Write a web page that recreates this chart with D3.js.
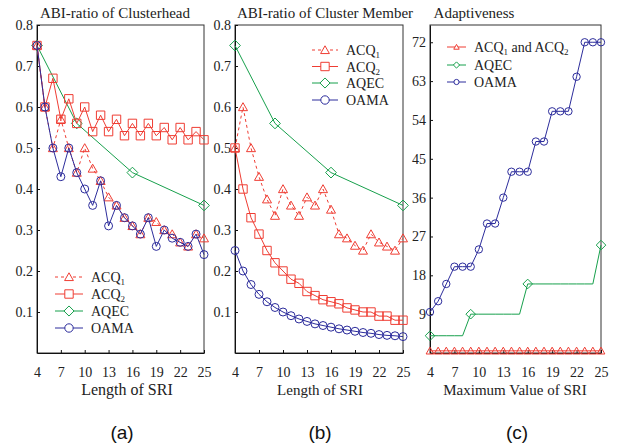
<!DOCTYPE html>
<html><head><meta charset="utf-8">
<script src="https://cdn.jsdelivr.net/npm/d3@7"></script>
<style>body{margin:0;background:#fff}</style>
</head><body>
<svg id="chart" width="631" height="445"></svg>
<script>
// ---------- data ----------
const sri = [4,5,6,7,8,9,10,11,12,13,14,15,16,17,18,19,20,21,22,23,24,25];
const xTicks = [4,7,10,13,16,19,22,25];
const ratioTicks = [0.1,0.2,0.3,0.4,0.5,0.6,0.7,0.8];
const adaptTicks = [9,18,27,36,45,54,63,72];
const aqecSri = [4,9,16,25];

// (a) ABI-ratio of Clusterhead
const headACQ1 = [0.75,0.60,0.50,0.57,0.50,0.44,0.50,0.45,0.42,0.38,0.36,0.33,0.31,0.29,0.33,0.32,0.30,0.29,0.27,0.26,0.29,0.28];
const headACQ2 = [0.75,0.60,0.67,0.57,0.62,0.56,0.60,0.54,0.58,0.54,0.57,0.53,0.56,0.53,0.56,0.53,0.55,0.52,0.55,0.52,0.54,0.52];
const headAQEC = [0.75,0.56,0.44,0.36];
const headOAMA = [0.75,0.60,0.50,0.43,0.50,0.44,0.40,0.36,0.42,0.31,0.36,0.33,0.31,0.29,0.33,0.26,0.30,0.28,0.27,0.26,0.29,0.24];

// (b) ABI-ratio of Cluster Member
const memACQ1 = [0.50,0.60,0.50,0.43,0.375,0.335,0.40,0.36,0.335,0.38,0.36,0.40,0.35,0.29,0.28,0.262,0.25,0.29,0.27,0.26,0.25,0.28];
const memACQ2 = [0.50,0.40,0.33,0.29,0.25,0.22,0.20,0.18,0.17,0.15,0.14,0.13,0.125,0.12,0.11,0.105,0.10,0.10,0.09,0.09,0.08,0.08];
const memAQEC = [0.75,0.56,0.44,0.36];
const memOAMA = [0.25,0.20,0.167,0.143,0.125,0.111,0.10,0.091,0.083,0.077,0.071,0.067,0.063,0.059,0.056,0.053,0.05,0.048,0.045,0.043,0.042,0.04];

// (c) Adaptiveness
const adaptACQ = [0.5,0.5,0.5,0.5,0.5,0.5,0.5,0.5,0.5,0.5,0.5,0.5,0.5,0.5,0.5,0.5,0.5,0.5,0.5,0.5,0.5,0.5];
const adaptAQEC = [4,4,4,4,4,9,9,9,9,9,9,9,16,16,16,16,16,16,16,16,16,25];
const adaptAQECMarks = [4,9,16,25];
const adaptOAMA = [9.5,12,16,20,20,20,24,30,30,36,42,42,42,49,49,56,56,56,64,72,72,72];

// ---------- style ----------
const RED = "#ef3d33", GREEN = "#17a04c", BLUE = "#2d2d9c";
const SERIF = "Liberation Serif, Times New Roman, DejaVu Serif, serif";
const svg = d3.select("#chart");

function markerPath(type, s) {
  if (type === "circle") return d3.symbol().type(d3.symbolCircle).size(Math.PI*s*s)();
  if (type === "square") return `M${-s},${-s}H${s}V${s}H${-s}Z`;
  if (type === "diamond") { const d = s*1.2; return `M0,${-d}L${d},0L0,${d}L${-d},0Z`; }
  if (type === "triangle") { const h = s*1.0; return `M0,${-h}L${s*1.05},${h*0.85}L${-s*1.05},${h*0.85}Z`; }
}

function drawSeries(g, x, y, xs, ys, opt) {
  const line = d3.line().x((d,i)=>x(xs[i])).y(d=>y(d));
  g.append("path").datum(ys).attr("d", line).attr("fill","none")
    .attr("stroke", opt.color).attr("stroke-width", 1)
    .attr("stroke-dasharray", opt.dash ? "3,3" : null);
  const mx = opt.markX || xs;
  const my = opt.markY || ys;
  g.selectAll(null).data(my).enter().append("path")
    .attr("d", markerPath(opt.marker, opt.size))
    .attr("transform", (d,i)=>`translate(${x(mx[i])},${y(d)})`)
    .attr("fill","none").attr("stroke", opt.color).attr("stroke-width", 1);
}

function subText(t, base, sub, rest) {
  t.append("tspan").text(base);
  t.append("tspan").text(sub).attr("font-size","9px").attr("dy", 3);
  if (rest) {
    t.append("tspan").text(rest).attr("dy", -3);
  }
}

function legend(g, x0, x1, ys, items, size, fs) {
  items.forEach((it, i) => {
    const y = ys[i];
    g.append("line").attr("x1", x0).attr("x2", x1).attr("y1", y).attr("y2", y)
      .attr("stroke", it.color).attr("stroke-width", 1)
      .attr("stroke-dasharray", it.dash ? "3,3" : null);
    g.append("path").attr("d", markerPath(it.marker, size))
      .attr("transform", `translate(${(x0+x1)/2},${y})`)
      .attr("fill","#fff").attr("stroke", it.color);
    const t = g.append("text").attr("x", x1 + 8).attr("y", y + 5)
      .style("font-family", SERIF).attr("font-size", fs).attr("fill","#222");
    it.label(t);
  });
}

function panel(cfg) {
  const g = svg.append("g");
  const x = d3.scaleLinear().domain([4,25]).range([cfg.left, cfg.right]);
  const y = d3.scaleLinear().domain(cfg.ydom).range([353, 25]);
  g.append("rect").attr("x", cfg.left).attr("y", 25)
    .attr("width", cfg.right - cfg.left).attr("height", 328)
    .attr("fill","none").attr("stroke","#333").attr("stroke-width",1);
  const xa = g.append("g").attr("transform","translate(0,353)")
    .call(d3.axisBottom(x).tickValues(xTicks).tickSize(-3).tickSizeOuter(0).tickPadding(14));
  const ya = g.append("g").attr("transform",`translate(${cfg.left},0)`)
    .call(d3.axisLeft(y).tickValues(cfg.yticks).tickSize(-3).tickSizeOuter(0).tickPadding(4).tickFormat(cfg.fmt));
  [xa, ya].forEach(a => {
    a.attr("font-family", null);
    a.selectAll("text").style("font-family", SERIF).attr("font-size", 14).attr("fill","#222");
    a.select(".domain").attr("stroke","#111");
    a.selectAll(".tick line").attr("stroke","#111");
  });
  g.append("text").attr("x", cfg.titleX).attr("y", 18).attr("text-anchor","middle")
    .style("font-family", SERIF).attr("font-size", 15).attr("fill","#222").text(cfg.title);
  g.append("text").attr("x", cfg.xtitleX).attr("y", 395).attr("text-anchor","middle")
    .style("font-family", SERIF).attr("font-size", cfg.xtitleSize).attr("fill","#222").text(cfg.xtitle);
  g.append("text").attr("x", cfg.labelX).attr("y", 439).attr("text-anchor","middle")
    .style("font-family","Liberation Sans, Arial, sans-serif").attr("font-size", 19).attr("fill","#111").text(cfg.label);
  return {g, x, y};
}

const fmtR = d3.format(".1f");

// Panel (a)
{
  const {g, x, y} = panel({left:37, right:204, ydom:[0,0.8], yticks:ratioTicks, fmt:fmtR,
    title:"ABI-ratio of Clusterhead", titleX:115, xtitle:"Length of SRI", xtitleX:127, xtitleSize:16, label:"(a)", labelX:122});
  drawSeries(g, x, y, aqecSri, headAQEC, {color:GREEN, marker:"diamond", size:4.5});
  drawSeries(g, x, y, sri, headACQ2, {color:RED, marker:"square", size:4.2});
  drawSeries(g, x, y, sri, headACQ1, {color:RED, marker:"triangle", size:4.3, dash:true});
  drawSeries(g, x, y, sri, headOAMA, {color:BLUE, marker:"circle", size:4});
  legend(g, 55, 83, [277, 294, 311, 328], [
    {color:RED, marker:"triangle", dash:true, label:t=>subText(t,"ACQ","1")},
    {color:RED, marker:"square", label:t=>subText(t,"ACQ","2")},
    {color:GREEN, marker:"diamond", label:t=>t.text("AQEC")},
    {color:BLUE, marker:"circle", label:t=>t.text("OAMA")}
  ], 4.2, 14);
}

// Panel (b)
{
  const {g, x, y} = panel({left:235, right:403, ydom:[0,0.8], yticks:ratioTicks, fmt:fmtR,
    title:"ABI-ratio of Cluster Member", titleX:325, xtitle:"Length of SRI", xtitleX:320, xtitleSize:15, label:"(b)", labelX:320});
  drawSeries(g, x, y, aqecSri, memAQEC, {color:GREEN, marker:"diamond", size:4.5});
  drawSeries(g, x, y, sri, memACQ1, {color:RED, marker:"triangle", size:4.3, dash:true});
  drawSeries(g, x, y, sri, memACQ2, {color:RED, marker:"square", size:4.2});
  drawSeries(g, x, y, sri, memOAMA, {color:BLUE, marker:"circle", size:4});
  legend(g, 312, 338, [50, 66.5, 83, 100], [
    {color:RED, marker:"triangle", dash:true, label:t=>subText(t,"ACQ","1")},
    {color:RED, marker:"square", label:t=>subText(t,"ACQ","2")},
    {color:GREEN, marker:"diamond", label:t=>t.text("AQEC")},
    {color:BLUE, marker:"circle", label:t=>t.text("OAMA")}
  ], 4.2, 14);
}

// Panel (c)
{
  const {g, x, y} = panel({left:430, right:601, ydom:[0,76], yticks:adaptTicks, fmt:d3.format("d"),
    title:"Adaptiveness", titleX:474, xtitle:"Maximum Value of SRI", xtitleX:515, xtitleSize:15, label:"(c)", labelX:517});
  drawSeries(g, x, y, sri, adaptAQEC, {color:GREEN, marker:"diamond", size:4, markX:adaptAQECMarks, markY:[4,9,16,25]});
  drawSeries(g, x, y, sri, adaptACQ, {color:RED, marker:"triangle", size:3.7});
  drawSeries(g, x, y, sri, adaptOAMA, {color:BLUE, marker:"circle", size:3.7});
  legend(g, 447, 466, [47, 65, 82], [
    {color:RED, marker:"triangle", label:t=>{subText(t,"ACQ","1"," and ACQ"); t.append("tspan").text("2").attr("font-size","9px").attr("dy",3);}},
    {color:GREEN, marker:"diamond", label:t=>t.text("AQEC")},
    {color:BLUE, marker:"circle", label:t=>t.text("OAMA")}
  ], 2.6, 14);
}
</script>
</body></html>
